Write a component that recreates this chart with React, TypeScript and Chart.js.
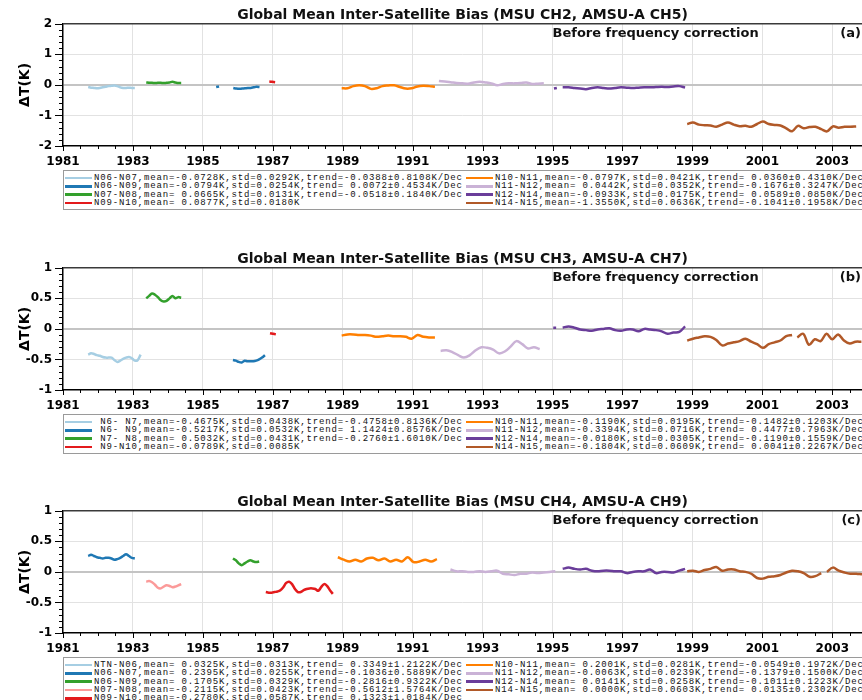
import React, { useEffect, useRef } from 'react';
import { Chart, registerables } from 'chart.js';

Chart.register(...registerables);

const FONT = "'DejaVu Sans', 'Liberation Sans', sans-serif";
const MONO = "'Liberation Mono', 'DejaVu Sans Mono', monospace";
Chart.defaults.font.family = FONT;

// ---------- axis values ----------
const X_MIN = 1981;
const X_MAX = 2003.85;
const X_LABEL_YEARS = [1981, 1983, 1985, 1987, 1989, 1991, 1993, 1995, 1997, 1999, 2001, 2003];
const X_MINOR_STEP = 0.5;

// ---------- colours ----------
const LIGHT_BLUE = '#a6cee3';
const DARK_BLUE = '#1f78b4';
const GREEN = '#33a02c';
const PINK = '#fb9a99';
const RED = '#e31a1c';
const ORANGE = '#ff7f00';
const LIGHT_PURPLE = '#cab2d6';
const PURPLE = '#6a3d9a';
const BROWN = '#b15928';

// ---------- data: each segment = start year, step in months, values ----------
// Panel (a) MSU CH2 / AMSU-A CH5
const A_N06_N07 = [-0.07, -0.09, -0.1, -0.11, -0.1, -0.08, -0.06, -0.04, -0.03, -0.02, -0.04, -0.08, -0.1, -0.1, -0.09, -0.1, -0.1];
const A_N06_N09_1 = [-0.07, -0.05];
const A_N06_N09_2 = [-0.1, -0.12, -0.13, -0.12, -0.11, -0.1, -0.1, -0.08, -0.06, -0.07];
const A_N07_N08 = [0.08, 0.07, 0.07, 0.06, 0.07, 0.07, 0.06, 0.07, 0.08, 0.1, 0.08, 0.06, 0.06];
const A_N09_N10 = [0.11, 0.1, 0.09];
const A_N10_N11 = [-0.11, -0.11, -0.04, -0.01, -0.04, -0.13, -0.11, -0.04, -0.02, -0.01, -0.07, -0.12, -0.11, -0.05, -0.03, -0.04, -0.06];
const A_N11_N12 = [0.13, 0.11, 0.09, 0.06, 0.05, 0.04, 0.08, 0.1, 0.08, 0.05, -0.01, 0.03, 0.05, 0.05, 0.06, 0.08, 0.03, 0.04, 0.05];
const A_N12_N14_1 = [-0.12, -0.1];
const A_N12_N14_2 = [-0.08, -0.08, -0.1, -0.12, -0.14, -0.1, -0.08, -0.1, -0.12, -0.1, -0.08, -0.09, -0.1, -0.09, -0.08, -0.08, -0.07, -0.06, -0.07, -0.05, -0.04, -0.09];
const A_N14_N15 = [-1.28, -1.23, -1.3, -1.32, -1.33, -1.37, -1.3, -1.23, -1.3, -1.35, -1.34, -1.37, -1.28, -1.2, -1.28, -1.31, -1.33, -1.42, -1.52, -1.34, -1.42, -1.38, -1.37, -1.45, -1.52, -1.36, -1.4, -1.37, -1.37, -1.36];

// Panel (b) MSU CH3 / AMSU-A CH7
const B_N6_N7 = [-0.42, -0.4, -0.41, -0.43, -0.44, -0.46, -0.47, -0.47, -0.47, -0.51, -0.54, -0.52, -0.49, -0.47, -0.46, -0.48, -0.52, -0.51, -0.42];
const B_N6_N9 = [-0.51, -0.52, -0.54, -0.55, -0.52, -0.53, -0.53, -0.53, -0.52, -0.5, -0.47, -0.43];
const B_N7_N8 = [0.5, 0.54, 0.58, 0.56, 0.52, 0.47, 0.45, 0.46, 0.5, 0.54, 0.5, 0.52, 0.51];
const B_N9_N10 = [-0.07, -0.08, -0.09];
const B_N10_N11 = [-0.11, -0.09, -0.09, -0.1, -0.1, -0.11, -0.13, -0.12, -0.11, -0.12, -0.12, -0.13, -0.16, -0.1, -0.13, -0.14, -0.14];
const B_N11_N12 = [-0.36, -0.35, -0.38, -0.43, -0.47, -0.43, -0.35, -0.3, -0.31, -0.34, -0.4, -0.37, -0.29, -0.2, -0.25, -0.32, -0.3, -0.33];
const B_N12_N14_1 = [0.02, 0.02];
const B_N12_N14_2 = [0.02, 0.04, 0.02, -0.01, -0.02, -0.03, -0.01, 0.0, 0.01, -0.02, -0.03, -0.01, -0.01, -0.04, 0.0, -0.01, -0.02, -0.04, -0.08, -0.06, -0.05, 0.04];
const B_N14_N15_1 = [-0.19, -0.16, -0.14, -0.12, -0.13, -0.18, -0.27, -0.24, -0.22, -0.2, -0.16, -0.21, -0.25, -0.31, -0.25, -0.22, -0.19, -0.12, -0.1];
const B_N14_N15_2 = [-0.14, -0.08, -0.26, -0.17, -0.2, -0.08, -0.17, -0.09, -0.19, -0.24, -0.21, -0.21];

// Panel (c) MSU CH4 / AMSU-A CH9
const C_NTN_N06: number[] = [];
const C_N06_N07 = [0.26, 0.28, 0.26, 0.24, 0.23, 0.22, 0.23, 0.23, 0.22, 0.2, 0.21, 0.23, 0.26, 0.29, 0.26, 0.23, 0.22];
const C_N06_N09 = [0.22, 0.19, 0.14, 0.11, 0.14, 0.17, 0.19, 0.17, 0.16, 0.17];
const C_N07_N08 = [-0.16, -0.15, -0.17, -0.21, -0.26, -0.27, -0.24, -0.22, -0.23, -0.25, -0.24, -0.22, -0.2];
const C_N09_N10 = [-0.33, -0.34, -0.34, -0.33, -0.32, -0.3, -0.25, -0.18, -0.16, -0.2, -0.28, -0.33, -0.33, -0.3, -0.28, -0.27, -0.27, -0.28, -0.31, -0.25, -0.2, -0.23, -0.3, -0.36];
const C_N10_N11 = [0.24, 0.2, 0.17, 0.2, 0.17, 0.22, 0.23, 0.19, 0.22, 0.17, 0.2, 0.17, 0.24, 0.16, 0.17, 0.2, 0.17, 0.21];
const C_N11_N12 = [0.04, 0.01, 0.01, 0.0, 0.0, 0.01, 0.0, 0.01, 0.02, -0.03, -0.04, -0.05, -0.03, -0.03, -0.01, -0.02, -0.01, 0.0, 0.01];
const C_N12_N14 = [0.05, 0.07, 0.05, 0.04, 0.05, 0.02, 0.01, 0.02, 0.02, 0.01, 0.01, -0.02, 0.0, 0.01, 0.01, 0.04, -0.02, 0.0, 0.0, -0.01, 0.02, 0.05];
const C_N14_N15_1 = [0.01, 0.02, 0.0, 0.03, 0.05, 0.08, 0.02, 0.04, 0.04, 0.01, 0.0, -0.03, -0.1, -0.11, -0.08, -0.07, -0.05, -0.01, 0.02, 0.01, -0.02, -0.08, -0.07, -0.02];
const C_N14_N15_2 = [0.0, 0.07, 0.02, -0.01, -0.03, -0.03, -0.04];

type Seg = [number, number, (number | null)[]];
type Series = { label: string; color: string; col: number; segs: Seg[] };

const PANEL_A: Series[] = [
  { label: 'N06-N07,mean=-0.0728K,std=0.0292K,trend=-0.0388±0.8108K/Dec', color: LIGHT_BLUE, col: 0, segs: [[1981.72, 1, A_N06_N07]] },
  { label: 'N06-N09,mean=-0.0794K,std=0.0254K,trend= 0.0072±0.4534K/Dec', color: DARK_BLUE, col: 0, segs: [[1985.38, 1, A_N06_N09_1], [1985.87, 1, A_N06_N09_2]] },
  { label: 'N07-N08,mean= 0.0665K,std=0.0131K,trend=-0.0518±0.1840K/Dec', color: GREEN, col: 0, segs: [[1983.38, 1, A_N07_N08]] },
  { label: 'N09-N10,mean= 0.0877K,std=0.0180K', color: RED, col: 0, segs: [[1986.9, 1, A_N09_N10]] },
  { label: 'N10-N11,mean=-0.0797K,std=0.0421K,trend= 0.0360±0.4310K/Dec', color: ORANGE, col: 1, segs: [[1988.97, 2, A_N10_N11]] },
  { label: 'N11-N12,mean= 0.0442K,std=0.0352K,trend=-0.1676±0.3247K/Dec', color: LIGHT_PURPLE, col: 1, segs: [[1991.75, 2, A_N11_N12]] },
  { label: 'N12-N14,mean=-0.0933K,std=0.0175K,trend= 0.0589±0.0850K/Dec', color: PURPLE, col: 1, segs: [[1995.04, 1, A_N12_N14_1], [1995.29, 2, A_N12_N14_2]] },
  { label: 'N14-N15,mean=-1.3550K,std=0.0636K,trend=-0.1041±0.1958K/Dec', color: BROWN, col: 1, segs: [[1998.85, 2, A_N14_N15]] },
];

const PANEL_B: Series[] = [
  { label: ' N6- N7,mean=-0.4675K,std=0.0438K,trend=-0.4758±0.8136K/Dec', color: LIGHT_BLUE, col: 0, segs: [[1981.72, 1, B_N6_N7]] },
  { label: ' N6- N9,mean=-0.5217K,std=0.0532K,trend= 1.1424±0.8576K/Dec', color: DARK_BLUE, col: 0, segs: [[1985.86, 1, B_N6_N9]] },
  { label: ' N7- N8,mean= 0.5032K,std=0.0431K,trend=-0.2760±1.6010K/Dec', color: GREEN, col: 0, segs: [[1983.38, 1, B_N7_N8]] },
  { label: ' N9-N10,mean=-0.0789K,std=0.0085K', color: RED, col: 0, segs: [[1986.92, 1, B_N9_N10]] },
  { label: 'N10-N11,mean=-0.1190K,std=0.0195K,trend=-0.1482±0.1203K/Dec', color: ORANGE, col: 1, segs: [[1988.97, 2, B_N10_N11]] },
  { label: 'N11-N12,mean=-0.3394K,std=0.0716K,trend= 0.4477±0.7963K/Dec', color: LIGHT_PURPLE, col: 1, segs: [[1991.8, 2, B_N11_N12]] },
  { label: 'N12-N14,mean=-0.0180K,std=0.0305K,trend=-0.1190±0.1559K/Dec', color: PURPLE, col: 1, segs: [[1995.02, 1, B_N12_N14_1], [1995.29, 2, B_N12_N14_2]] },
  { label: 'N14-N15,mean=-0.1804K,std=0.0609K,trend= 0.0041±0.2267K/Dec', color: BROWN, col: 1, segs: [[1998.85, 2, B_N14_N15_1], [2002.0, 2, B_N14_N15_2]] },
];

const PANEL_C: Series[] = [
  { label: 'NTN-N06,mean= 0.0325K,std=0.0313K,trend= 0.3349±1.2122K/Dec', color: LIGHT_BLUE, col: 0, segs: [[1981, 1, C_NTN_N06]] },
  { label: 'N06-N07,mean= 0.2395K,std=0.0255K,trend=-0.1036±0.5889K/Dec', color: DARK_BLUE, col: 0, segs: [[1981.72, 1, C_N06_N07]] },
  { label: 'N06-N09,mean= 0.1705K,std=0.0329K,trend=-0.2816±0.9322K/Dec', color: GREEN, col: 0, segs: [[1985.86, 1, C_N06_N09]] },
  { label: 'N07-N08,mean=-0.2115K,std=0.0423K,trend=-0.5612±1.5764K/Dec', color: PINK, col: 0, segs: [[1983.38, 1, C_N07_N08]] },
  { label: 'N09-N10,mean=-0.2780K,std=0.0587K,trend= 0.1323±1.0184K/Dec', color: RED, col: 0, segs: [[1986.8, 1, C_N09_N10]] },
  { label: 'N10-N11,mean= 0.2001K,std=0.0281K,trend=-0.0549±0.1972K/Dec', color: ORANGE, col: 1, segs: [[1988.86, 2, C_N10_N11]] },
  { label: 'N11-N12,mean=-0.0063K,std=0.0239K,trend=-0.1379±0.1500K/Dec', color: LIGHT_PURPLE, col: 1, segs: [[1992.08, 2, C_N11_N12]] },
  { label: 'N12-N14,mean= 0.0141K,std=0.0258K,trend=-0.1011±0.1223K/Dec', color: PURPLE, col: 1, segs: [[1995.29, 2, C_N12_N14]] },
  { label: 'N14-N15,mean= 0.0000K,std=0.0603K,trend= 0.0135±0.2302K/Dec', color: BROWN, col: 1, segs: [[1998.85, 2, C_N14_N15_1], [2002.85, 2, C_N14_N15_2]] },
];

type PanelCfg = {
  top: number; title: string; tag: string; note: string;
  yMin: number; yMax: number; yMinor: number; yMajor: number; series: Series[];
};

const PANELS: PanelCfg[] = [
  { top: 0, title: 'Global Mean Inter-Satellite Bias (MSU CH2, AMSU-A CH5)', tag: '(a)', note: 'Before frequency correction', yMin: -2, yMax: 2, yMinor: 0.2, yMajor: 1, series: PANEL_A },
  { top: 244, title: 'Global Mean Inter-Satellite Bias (MSU CH3, AMSU-A CH7)', tag: '(b)', note: 'Before frequency correction', yMin: -1, yMax: 1, yMinor: 0.1, yMajor: 0.5, series: PANEL_B },
  { top: 487, title: 'Global Mean Inter-Satellite Bias (MSU CH4, AMSU-A CH9)', tag: '(c)', note: 'Before frequency correction', yMin: -1, yMax: 1, yMinor: 0.1, yMajor: 0.5, series: PANEL_C },
];

const NOTE_YEAR = 1995;
const CANVAS_H = 172;
const ROW_H = 8.3;

function buildPoints(segs: Seg[]) {
  const pts: { x: number; y: number | null }[] = [];
  segs.forEach(([start, stepM, vals], si) => {
    if (si > 0) pts.push({ x: start - 0.01, y: null });
    vals.forEach((v, i) => pts.push({ x: start + (i * stepM) / 12, y: v }));
  });
  return pts;
}

const isMultiple = (v: number, m: number) => Math.abs(v / m - Math.round(v / m)) < 1e-6;

function xTickValues() {
  const out: number[] = [];
  for (let v = X_MIN; v <= X_MAX + 1e-9; v += X_MINOR_STEP) out.push(Math.round(v * 100) / 100);
  return out;
}
function yTickValues(cfg: PanelCfg) {
  const out: number[] = [];
  const n = Math.round((cfg.yMax - cfg.yMin) / cfg.yMinor);
  for (let i = 0; i <= n; i++) out.push(Math.round((cfg.yMin + i * cfg.yMinor) * 100) / 100);
  return out;
}

function makeFramePlugin(cfg: PanelCfg) {
  return {
    id: 'frameAndNotes',
    afterDraw(chart: any) {
      const { ctx, chartArea: ca } = chart;
      const xs = chart.scales.x;
      const ys = chart.scales.y;
      ctx.save();
      ctx.strokeStyle = '#000';
      ctx.lineWidth = 1;
      ctx.beginPath();
      for (const t of xs.ticks) {
        const px = Math.round(xs.getPixelForValue(t.value)) + 0.5;
        const len = X_LABEL_YEARS.includes(t.value) ? 5 : 3;
        ctx.moveTo(px, ca.bottom);
        ctx.lineTo(px, ca.bottom + len);
      }
      for (const t of ys.ticks) {
        const py = Math.round(ys.getPixelForValue(t.value)) + 0.5;
        const len = isMultiple(t.value, cfg.yMajor) ? 8 : 4;
        ctx.moveTo(ca.left - len, py);
        ctx.lineTo(ca.left, py);
      }
      ctx.stroke();
      ctx.strokeStyle = '#3a3a3a';
      ctx.lineWidth = 1.5;
      ctx.beginPath();
      ctx.moveTo(ca.left, ca.top);
      ctx.lineTo(ca.right, ca.top);
      ctx.stroke();
      ctx.fillStyle = '#111';
      ctx.font = `bold 13px ${FONT}`;
      ctx.textBaseline = 'middle';
      ctx.textAlign = 'left';
      ctx.fillText(cfg.note, xs.getPixelForValue(NOTE_YEAR), ca.top + 10);
      ctx.textAlign = 'right';
      ctx.fillText(cfg.tag, ca.right - 1, ca.top + 10);
      ctx.restore();
    },
  };
}

function Legend({ series }: { series: Series[] }) {
  const cols = [series.filter((s) => s.col === 0), series.filter((s) => s.col === 1)];
  const rows = Math.max(cols[0].length, cols[1].length);
  return (
    <div
      style={{
        position: 'absolute', left: 63, top: 170, width: 830, height: 5 + rows * ROW_H,
        border: '1px solid #9a9a9a', background: '#fff',
      }}
    >
      {cols.map((col, ci) =>
        col.map((s, i) => (
          <div key={ci + '-' + i} style={{ position: 'absolute', left: ci === 0 ? 1 : 402, top: 3 + i * ROW_H, height: ROW_H, width: 400 }}>
            <span style={{ position: 'absolute', left: 0, top: ROW_H / 2 - 1.25, width: 27, height: 2.5, background: s.color }} />
            <span
              style={{
                position: 'absolute', left: 29, top: 0, fontFamily: MONO, fontSize: 9, lineHeight: ROW_H + 'px',
                letterSpacing: '0.85px', whiteSpace: 'pre', color: '#111',
              }}
            >
              {s.label}
            </span>
          </div>
        ))
      )}
    </div>
  );
}

function Panel({ cfg }: { cfg: PanelCfg }) {
  const ref = useRef<HTMLCanvasElement>(null);
  useEffect(() => {
    const xTicks = xTickValues();
    const yTicks = yTickValues(cfg);
    const chart = new Chart(ref.current as HTMLCanvasElement, {
      type: 'line',
      data: {
        datasets: cfg.series.map((s) => ({
          label: s.label,
          data: buildPoints(s.segs) as any,
          borderColor: s.color,
          backgroundColor: s.color,
          borderWidth: 2.5,
          pointRadius: 0,
          tension: 0.35,
          spanGaps: false,
          fill: false,
        })),
      },
      options: {
        animation: false,
        responsive: false,
        layout: { padding: 0 },
        plugins: {
          legend: { display: false },
          tooltip: { enabled: false },
          title: {
            display: true,
            text: cfg.title,
            fullSize: false,
            color: '#111',
            font: { family: FONT, size: 14, weight: 'bold' },
            padding: { top: 7, bottom: 0 },
          },
        },
        scales: {
          x: {
            type: 'linear',
            min: X_MIN,
            max: X_MAX,
            afterFit: (s: any) => { s.height = CANVAS_H - 146; },
            afterBuildTicks: (s: any) => { s.ticks = xTicks.map((v) => ({ value: v })); },
            ticks: {
              autoSkip: false,
              maxRotation: 0,
              padding: 9,
              color: '#000',
              font: { family: FONT, size: 12, weight: 'bold' },
              callback: (v: any) => (X_LABEL_YEARS.includes(Number(v)) ? String(v) : ''),
            },
            grid: {
              drawTicks: false,
              color: (c: any) => {
                const v = c.tick ? c.tick.value : NaN;
                return X_LABEL_YEARS.includes(v) && v !== X_MIN ? '#e2e2e2' : 'rgba(0,0,0,0)';
              },
              lineWidth: 1,
            },
            border: { display: true, color: '#000', width: 1.5 },
          },
          y: {
            type: 'linear',
            min: cfg.yMin,
            max: cfg.yMax,
            afterFit: (s: any) => { s.width = 63; },
            afterBuildTicks: (s: any) => { s.ticks = yTicks.map((v) => ({ value: v })); },
            ticks: {
              autoSkip: false,
              padding: 11,
              color: '#000',
              font: { family: FONT, size: 12, weight: 'bold' },
              callback: (v: any) => (isMultiple(Number(v), cfg.yMajor) ? String(Math.round(Number(v) * 10) / 10) : ''),
            },
            title: {
              display: true,
              text: 'ΔT(K)',
              color: '#000',
              font: { family: FONT, size: 14, weight: 'bold' },
              padding: { top: 17, bottom: 0 },
            },
            grid: {
              drawTicks: false,
              color: (c: any) => {
                const v = c.tick ? c.tick.value : NaN;
                if (Math.abs(v) < 1e-9) return '#c4c4c4';
                if (isMultiple(v, cfg.yMajor) && v !== cfg.yMin && v !== cfg.yMax) return '#e2e2e2';
                return 'rgba(0,0,0,0)';
              },
              lineWidth: (c: any) => (c.tick && Math.abs(c.tick.value) < 1e-9 ? 2 : 1),
            },
            border: { display: true, color: '#000', width: 1.5 },
          },
        },
      } as any,
      plugins: [makeFramePlugin(cfg)],
    });
    return () => chart.destroy();
  }, [cfg]);
  return (
    <div style={{ position: 'absolute', left: 0, top: cfg.top, width: 862, height: 240 }}>
      <canvas ref={ref} width={862} height={CANVAS_H} style={{ position: 'absolute', left: 0, top: 0 }} />
      <Legend series={cfg.series} />
    </div>
  );
}

export default function App() {
  return (
    <div style={{ position: 'absolute', left: 0, top: 0, width: 862, height: 700, overflow: 'hidden', background: '#fff' }}>
      {PANELS.map((p) => (
        <Panel key={p.tag} cfg={p} />
      ))}
    </div>
  );
}
